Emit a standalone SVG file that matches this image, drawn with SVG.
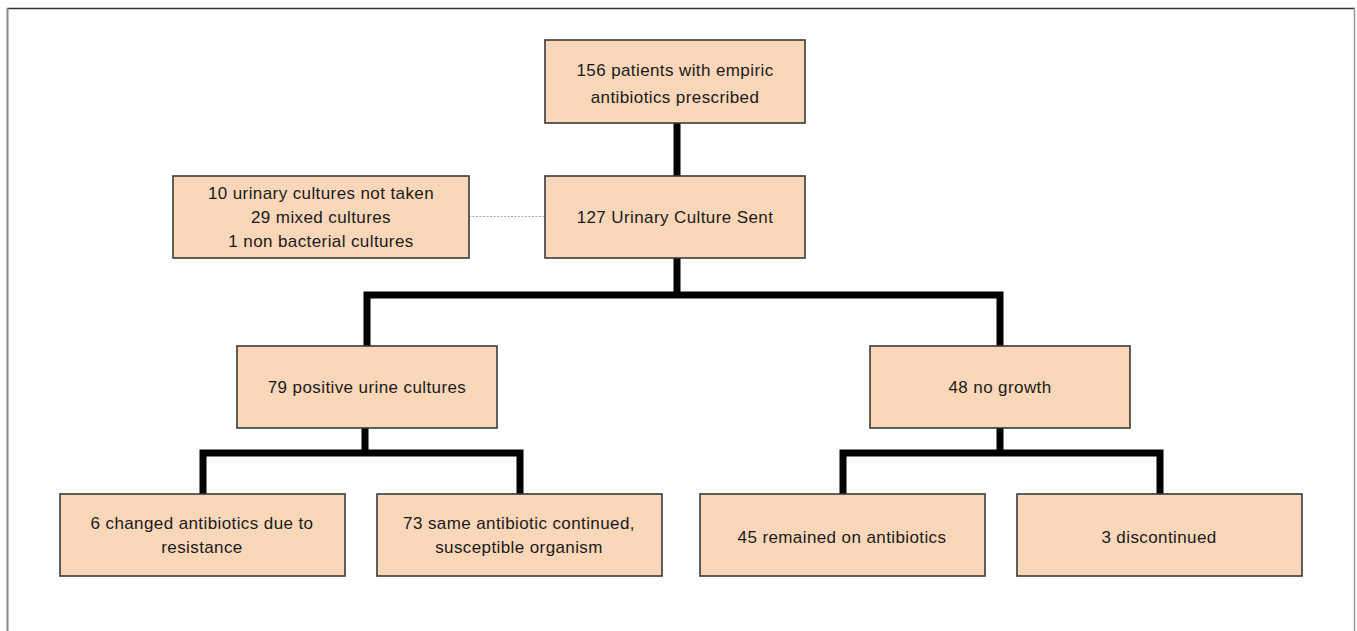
<svg xmlns="http://www.w3.org/2000/svg" width="1357" height="631" viewBox="0 0 1357 631">
<style>
.box{fill:#FAD7B8;stroke:#3a3a3a;stroke-width:1.6}
.t{font-family:"Liberation Sans",Arial,sans-serif;font-size:17px;letter-spacing:0.4px;fill:#1a1a1a;text-anchor:middle}
.c{fill:none;stroke:#000;stroke-width:7;stroke-linecap:square;stroke-linejoin:miter}
</style>
<rect x="0" y="0" width="1357" height="631" fill="#fff"/>
<g id="frame">
<line x1="7" y1="8.5" x2="1355" y2="8.5" stroke="#333" stroke-width="1.5"/>
<line x1="7.5" y1="8" x2="7.5" y2="631" stroke="#888" stroke-width="2"/>
<line x1="1354.5" y1="8" x2="1354.5" y2="631" stroke="#999" stroke-width="1.5"/>
</g>
<g id="connectors">
<path class="c" d="M677 123V176"/>
<path class="c" d="M677 258V295M367 346V295H1000V346"/>
<path class="c" d="M365 428V453M203 494V453H520V494"/>
<path class="c" d="M1000 428V453M843 494V453H1160V494"/>
<line x1="469" y1="216.5" x2="545" y2="216.5" stroke="#aaa" stroke-width="1" stroke-dasharray="2,1.5"/>
</g>
<g id="n1"><rect class="box" x="545" y="40" width="260" height="83"/>
<text class="t" x="675" y="76">156 patients with empiric</text>
<text class="t" x="675" y="103">antibiotics prescribed</text></g>
<g id="n2"><rect class="box" x="545" y="176" width="260" height="82"/>
<text class="t" x="675" y="223">127 Urinary Culture Sent</text></g>
<g id="n_excl"><rect class="box" x="173" y="176" width="296" height="82"/>
<text class="t" x="321" y="199">10 urinary cultures not taken</text>
<text class="t" x="321" y="223">29 mixed cultures</text>
<text class="t" x="321" y="247">1 non bacterial cultures</text></g>
<g id="n_pos"><rect class="box" x="237" y="346" width="260" height="82"/>
<text class="t" x="367" y="393">79 positive urine cultures</text></g>
<g id="n_neg"><rect class="box" x="870" y="346" width="260" height="82"/>
<text class="t" x="1000" y="393">48 no growth</text></g>
<g id="n_changed"><rect class="box" x="60" y="494" width="285" height="82"/>
<text class="t" x="202" y="529">6 changed antibiotics due to</text>
<text class="t" x="202" y="553">resistance</text></g>
<g id="n_same"><rect class="box" x="377" y="494" width="285" height="82"/>
<text class="t" x="519" y="529">73 same antibiotic continued,</text>
<text class="t" x="519" y="553">susceptible organism</text></g>
<g id="n_remained"><rect class="box" x="700" y="494" width="285" height="82"/>
<text class="t" x="842" y="543">45 remained on antibiotics</text></g>
<g id="n_disc"><rect class="box" x="1017" y="494" width="285" height="82"/>
<text class="t" x="1159" y="543">3 discontinued</text></g>
</svg>
